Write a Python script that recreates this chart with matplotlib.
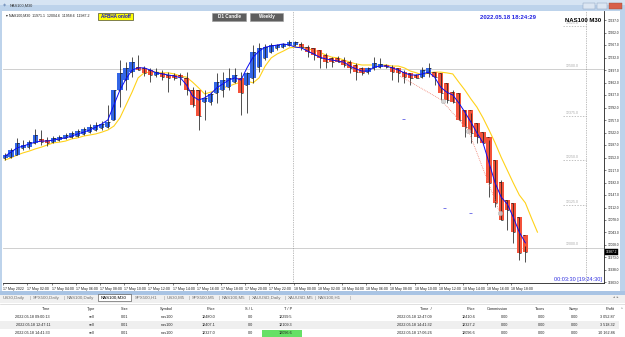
import matplotlib
matplotlib.use('Agg')
import matplotlib.pyplot as plt
from matplotlib.patches import Rectangle

plt.rcParams['font.family'] = ['Liberation Sans', 'DejaVu Sans']

# ---------------- data ----------------
ha_open = [12251, 12253, 12259, 12279, 12281, 12293, 12304, 12301, 12295, 12301,
           12307, 12309, 12312, 12318, 12323, 12329, 12335, 12337, 12357, 12441,
           12469, 12491, 12505, 12503, 12497, 12483, 12489, 12483, 12483, 12483,
           12475, 12441, 12441, 12407, 12407, 12433, 12441, 12449, 12463, 12475,
           12455, 12475, 12505, 12531, 12547, 12559, 12561, 12567, 12567, 12570,
           12561, 12559, 12553, 12539, 12531, 12531, 12525, 12519, 12511, 12503,
           12491, 12503, 12505, 12511, 12505, 12503, 12491, 12489, 12483, 12477,
           12489, 12491, 12489, 12461, 12435, 12433, 12385, 12385, 12349, 12323,
           12309, 12245, 12183, 12133, 12125, 12085, 12035]
ha_close = [12259, 12273, 12293, 12287, 12295, 12315, 12295, 12293, 12307, 12309,
            12315, 12321, 12326, 12332, 12337, 12343, 12346, 12351, 12441, 12489,
            12503, 12519, 12497, 12489, 12483, 12491, 12477, 12475, 12475, 12477,
            12441, 12399, 12368, 12419, 12430, 12463, 12469, 12475, 12483, 12433,
            12489, 12547, 12559, 12561, 12567, 12567, 12570, 12575, 12575, 12561,
            12547, 12539, 12531, 12519, 12519, 12519, 12511, 12503, 12491, 12489,
            12503, 12517, 12514, 12505, 12491, 12489, 12477, 12475, 12475, 12497,
            12503, 12477, 12433, 12413, 12407, 12357, 12337, 12321, 12309, 12293,
            12181, 12125, 12077, 12105, 12043, 11985, 11987]
bar_high = [12265, 12279, 12307, 12301, 12301, 12332, 12329, 12309, 12312, 12315,
            12321, 12326, 12332, 12337, 12346, 12351, 12354, 12399, 12441, 12525,
            12519, 12533, 12539, 12508, 12503, 12503, 12497, 12491, 12489, 12489,
            12491, 12449, 12441, 12441, 12435, 12489, 12491, 12503, 12503, 12491,
            12491, 12567, 12573, 12570, 12573, 12570, 12573, 12581, 12578, 12575,
            12567, 12559, 12553, 12545, 12533, 12536, 12533, 12525, 12517, 12505,
            12505, 12533, 12531, 12514, 12511, 12503, 12497, 12489, 12486, 12505,
            12517, 12491, 12489, 12461, 12441, 12433, 12385, 12377, 12349, 12323,
            12301, 12245, 12189, 12133, 12125, 12085, 12005]
bar_low = [12245, 12251, 12259, 12273, 12276, 12290, 12287, 12284, 12293, 12298,
           12304, 12307, 12309, 12315, 12321, 12326, 12329, 12335, 12357, 12393,
           12441, 12477, 12497, 12480, 12463, 12477, 12469, 12435, 12469, 12455,
           12427, 12393, 12329, 12357, 12399, 12405, 12421, 12441, 12461, 12371,
           12377, 12461, 12491, 12525, 12545, 12553, 12559, 12564, 12564, 12553,
           12533, 12525, 12503, 12503, 12505, 12519, 12505, 12489, 12469, 12483,
           12486, 12497, 12503, 12503, 12469, 12463, 12461, 12455, 12475, 12475,
           12477, 12455, 12413, 12405, 12405, 12357, 12309, 12293, 12293, 12293,
           12141, 12113, 12077, 12049, 12013, 11965, 11959]
smooth_line = [12256, 12267, 12279, 12284, 12290, 12295, 12298, 12298, 12301, 12304,
               12307, 12312, 12318, 12323, 12329, 12337, 12346, 12357, 12399, 12441,
               12472, 12497, 12503, 12503, 12497, 12489, 12486, 12483, 12480, 12475,
               12455, 12424, 12413, 12419, 12430, 12447, 12458, 12469, 12475, 12469,
               12503, 12533, 12550, 12561, 12564, 12567, 12570, 12567, 12561, 12559,
               12550, 12542, 12533, 12528, 12525, 12522, 12519, 12508, 12500, 12494,
               12494, 12505, 12508, 12508, 12503, 12497, 12489, 12483, 12483, 12486,
               12491, 12477, 12449, 12435, 12427, 12405, 12379, 12351, 12321, 12293,
               12237, 12181, 12141, 12122, 12085, 12043, 12013]
ma_line = [12245, 12251, 12259, 12265, 12270, 12276, 12281, 12287, 12293, 12295,
           12298, 12304, 12307, 12312, 12315, 12318, 12323, 12329, 12340, 12363,
           12399, 12435, 12475, 12489, 12491, 12491, 12489, 12489, 12486, 12480,
           12477, 12463, 12447, 12430, 12435, 12441, 12447, 12452, 12458, 12463,
           12466, 12461, 12475, 12508, 12531, 12542, 12550, 12559, 12561, 12561,
           12556, 12553, 12547, 12539, 12533, 12531, 12525, 12519, 12514, 12511,
           12511, 12511, 12511, 12511, 12508, 12508, 12503, 12494, 12489, 12483,
           12489, 12491, 12491, 12489, 12486, 12463, 12441, 12416, 12393, 12363,
           12329, 12293, 12253, 12217, 12181, 12147, 12125, 12083, 12043]

trade_open_idx = [65.3, 72.4, 76.6]
trade_open_px = [12480.0, 12407.1, 12327.0]
trade_close_idx = [72.4, 76.6, 81.8]
trade_close_px = [12410.6, 12327.2, 12096.6]
tp_mark_idx = [65.8, 72.7, 76.9]
tp_mark_px = [12360, 12111, 12097]

price_ticks = [12637.0, 12602.0, 12567.0, 12532.0, 12497.0, 12462.0, 12427.0, 12392.0,
               12357.0, 12322.0, 12287.0, 12252.0, 12217.0, 12182.0, 12147.0, 12112.0,
               12078.0, 12043.0, 12008.0, 11973.0, 11938.0, 11903.0]
time_labels = ["17 May 2022", "17 May 02:00", "17 May 04:00", "17 May 06:00", "17 May 08:00",
               "17 May 10:00", "17 May 12:00", "17 May 14:00", "17 May 16:00", "17 May 18:00",
               "17 May 20:00", "17 May 22:00", "18 May 00:00", "18 May 02:00", "18 May 04:00",
               "18 May 06:00", "18 May 08:00", "18 May 10:00", "18 May 12:00", "18 May 14:00",
               "18 May 16:00", "18 May 18:00"]
levels_solid = [12500.0, 12000.0]
levels_dotted = [12625.0, 12375.0, 12250.0, 12125.0]
last_price = 11987.2

tabs = ["US30,Daily", "SPX500,Daily", "NAS100,Daily", "NAS100,M30", "SPX500,H1", "US30,M5",
        "SPX500,M5", "NAS100,M5", "XAUUSD,Daily", "XAUUSD,M5", "NAS100,H1"]
headers = ["Time", "Type", "Size", "Symbol", "Price", "S / L", "T / P", "Time  /", "Price",
           "Commission", "Taxes", "Swap", "Profit"]
open_times = ["2022.05.18 09:00:13", "2022.05.18 12:47:11", "2022.05.18 14:41:33"]
types = ["sell", "sell", "sell"]
sizes = ["0.01", "0.01", "0.01"]
symbols = ["nas100", "nas100", "nas100"]
open_prices = ["12480.0", "12407.1", "12327.0"]
stop_loss = ["0.0", "0.0", "0.0"]
take_profit = ["12299.5", "12109.3", "12096.6"]
close_times = ["2022.05.18 12:47:09", "2022.05.18 14:41:32", "2022.05.18 17:06:26"]
close_prices = ["12410.6", "12327.2", "12096.6"]
commissions = ["0.00", "0.00", "0.00"]
taxes = ["0.00", "0.00", "0.00"]
swaps = ["0.00", "0.00", "0.00"]
profits = ["3 052.87", "3 518.32", "10 162.86"]

# ---------------- figure ----------------
W, H = 625, 337
fig = plt.figure(figsize=(6.25, 3.37), dpi=100)
fig.patch.set_facecolor('white')
bg = fig.add_axes([0, 0, 1, 1], zorder=0)
bg.set_xlim(0, W); bg.set_ylim(H, 0); bg.axis('off')
ax = fig.add_axes([3 / W, 1 - 283 / H, 601 / W, 272 / H], zorder=1)
ov = fig.add_axes([0, 0, 1, 1], zorder=2)
ov.set_xlim(0, W); ov.set_ylim(H, 0); ov.axis('off')
ov.patch.set_alpha(0)


def rect(a, x, y, w, h, fc, ec='none', lw=0, z=1):
    a.add_patch(Rectangle((x, y), w, h, facecolor=fc, edgecolor=ec, linewidth=lw, zorder=z))


def txt(a, x, y, s, size=2.6, color='black', ha='left', weight='normal', z=5):
    a.text(x, y, s, fontsize=size, color=color, ha=ha, va='center', fontweight=weight, zorder=z)


# window title bar
rect(bg, 0, 0, W, 5, '#D6E4F3')
rect(bg, 0, 5, W, 6, '#BDD3EB')
txt(bg, 3, 5.5, '◈', size=3, color='#6080B0')
txt(bg, 10, 5.5, 'NAS100,M30', size=2.8, color='#303030')
rect(bg, 583, 2.5, 12, 6, '#DCE6F2', ec='#8098B8', lw=0.3, z=2)
rect(bg, 597, 2.5, 10, 6, '#DCE6F2', ec='#8098B8', lw=0.3, z=2)
rect(bg, 609, 2.5, 13, 6, '#D8604A', ec='#905040', lw=0.3, z=2)
# frame
rect(bg, 0, 10, 2, 283, '#BDD3EB')
rect(bg, 620, 10, 5, 283, '#BDD3EB')
rect(bg, 0, 291, W, 4, '#A9C4E4')
# tabs row
rect(bg, 0, 295, W, 8, '#F0F0F0')
tab_x = [3, 33, 67, 101, 135, 167, 192, 222, 252, 288, 318]
for i, (t, x) in enumerate(zip(tabs, tab_x)):
    if t == "NAS100,M30":
        rect(bg, 98, 293.5, 33, 7.5, 'white', ec='#404040', lw=0.4, z=2)
        txt(bg, x, 297.5, t, size=3.2, color='black')
    else:
        txt(bg, x, 297.5, t, size=3.2, color='#707070')
    if i < len(tabs) - 1 and tabs[i + 1] != "NAS100,M30" and t != "NAS100,M30":
        txt(bg, tab_x[i + 1] - 3, 297.5, '|', size=3.2, color='#909090')
txt(bg, 350, 297.5, '|', size=3.2, color='#909090')
txt(bg, 613, 297.5, '◂  ▸', size=2.5, color='#606060')
bg.plot([0, W], [303.5, 303.5], color='#C8C8C8', lw=0.4)

# table
col_right = [50, 95, 128, 173, 215, 253, 292, 432, 475, 508, 545, 578, 615]
rect(bg, 0, 321, W - 6, 8, '#EFEFEF')
rect(bg, 262, 329.5, 40, 7.5, '#66E066', z=2)
for h_, x in zip(headers, col_right):
    txt(bg, x, 309, h_, size=2.8, color='#202020', ha='right')
rows = list(zip(open_times, types, sizes, symbols, open_prices, stop_loss, take_profit,
                close_times, close_prices, commissions, taxes, swaps, profits))
for r, row in enumerate(rows):
    y = 317 + 8 * r
    for v, x in zip(row, col_right):
        txt(bg, x, y, v, size=2.7, color='#202020', ha='right')
txt(bg, 621, 309, '^', size=2.6, color='#606060')

# ---------------- chart ----------------
ax.set_facecolor('white')
n = len(ha_open)
idx = list(range(n))
ax.set_xlim(-0.33, 99.0)
ax.set_ylim(11900.6, 12662.2)

for lv in levels_solid:
    ax.axhline(lv, color='#C8C8C8', lw=0.6, zorder=1)
    ax.text(92.6, lv + 3, f'{lv:.1f}', fontsize=2.5, color='#A8A8A8', va='bottom', ha='left')
for lv in levels_dotted:
    ax.hlines(lv - 6, 92.2, 96.0, colors='#A8A8A8', lw=0.5, linestyles=(0, (2, 2)), zorder=1)
    ax.text(92.6, lv - 3, f'{lv:.1f}', fontsize=2.5, color='#A8A8A8', va='bottom', ha='left')

ax.axvline(47.6, color='#808080', lw=0.5, ls=(0, (1, 1.5)), zorder=1)
ax.axvline(96.0, color='#808080', lw=0.5, ls=(0, (1, 1.5)), zorder=1)

ma_idx = list(range(len(ma_line)))
ax.plot(ma_idx, ma_line, color='#FFD21A', lw=0.8, zorder=2)

colors = ['#3366E6' if c >= o else '#F4523A' for o, c in zip(ha_open, ha_close)]
heights = [c - o for o, c in zip(ha_open, ha_close)]
ax.bar(idx, heights, bottom=ha_open, width=0.85, color=colors, linewidth=0, zorder=3)

ax.vlines(idx, bar_low, bar_high, color='#202020', lw=0.55, zorder=4)
ax.hlines(ha_open, [i - 0.35 for i in idx], idx, color='#202020', lw=0.5, zorder=4)
ax.hlines(ha_close, idx, [i + 0.35 for i in idx], color='#202020', lw=0.5, zorder=4)

ax.plot(idx, smooth_line, color='#0A0AF0', lw=0.7, zorder=5)

for xo, po, xc, pc in zip(trade_open_idx, trade_open_px, trade_close_idx, trade_close_px):
    ax.plot([xo, xc], [po, pc], color='#F08070', lw=0.6, ls=(0, (1, 1.2)), zorder=5)
    ax.plot([xc], [pc], marker='o', ms=3.2, mfc='#D0D0D0', mec='#B0B0B0', mew=0.4, alpha=0.85, zorder=6)
ax.hlines(tp_mark_px, [x - 0.25 for x in tp_mark_idx], [x + 0.25 for x in tp_mark_idx],
          colors='#4040E0', lw=0.5, zorder=6)

for s in ['top', 'left']:
    ax.spines[s].set_visible(False)
for s in ['right', 'bottom']:
    ax.spines[s].set_linewidth(0.6)
    ax.spines[s].set_color('#202020')
ax.yaxis.tick_right()
ax.set_yticks(price_ticks)
ax.set_yticklabels([f'{p:.1f}' for p in price_ticks])
ax.tick_params(axis='y', length=1.5, width=0.4, labelsize=2.3, pad=1.0, colors='#202020')
ax.set_xticks([4 * k - 0.3 for k in range(len(time_labels))])
ax.set_xticklabels(time_labels)
for lbl in ax.get_xticklabels():
    lbl.set_ha('left')
ax.tick_params(axis='x', length=1.5, width=0.4, labelsize=2.6, pad=1.2, colors='#202020')

ax.annotate(f'{last_price:.1f}', xy=(1.0, last_price), xycoords=('axes fraction', 'data'),
            xytext=(1.2, 0), textcoords='offset points', fontsize=2.3, color='white',
            va='center', ha='left', annotation_clip=False,
            bbox=dict(boxstyle='square,pad=0.25', fc='black', ec='black', lw=0.3), zorder=10)

# overlay texts on chart
txt(ov, 6, 15.5, '▾ NAS100,M30  11971.1  12004.6  11958.6  11987.2', size=2.6, color='#202020')
rect(ov, 98, 12.5, 35, 7.5, '#FFFF00', ec='#202020', lw=0.4, z=3)
txt(ov, 115.5, 16.3, 'AFBHA on/off', size=3.3, color='#1010D0', ha='center', weight='bold')
rect(ov, 212, 12.5, 34, 8, '#5E5E5E', ec='#9A9A9A', lw=0.4, z=3)
txt(ov, 229, 16.5, 'D1 Candle', size=3.3, color='white', ha='center', weight='bold')
rect(ov, 250, 12.5, 33, 8, '#5E5E5E', ec='#9A9A9A', lw=0.4, z=3)
txt(ov, 266.5, 16.5, 'Weekly', size=3.3, color='white', ha='center', weight='bold')
txt(ov, 508, 17.5, '2022.05.18 18:24:29', size=4.3, color='#2020E0', ha='center', weight='bold')
txt(ov, 583, 20, 'NAS100 M30', size=4.3, color='black', ha='center', weight='bold')
txt(ov, 602, 279.5, '00:03:30 [19:24:30]', size=4.0, color='#3030E0', ha='right')

fig.savefig('out.png', dpi=100)
